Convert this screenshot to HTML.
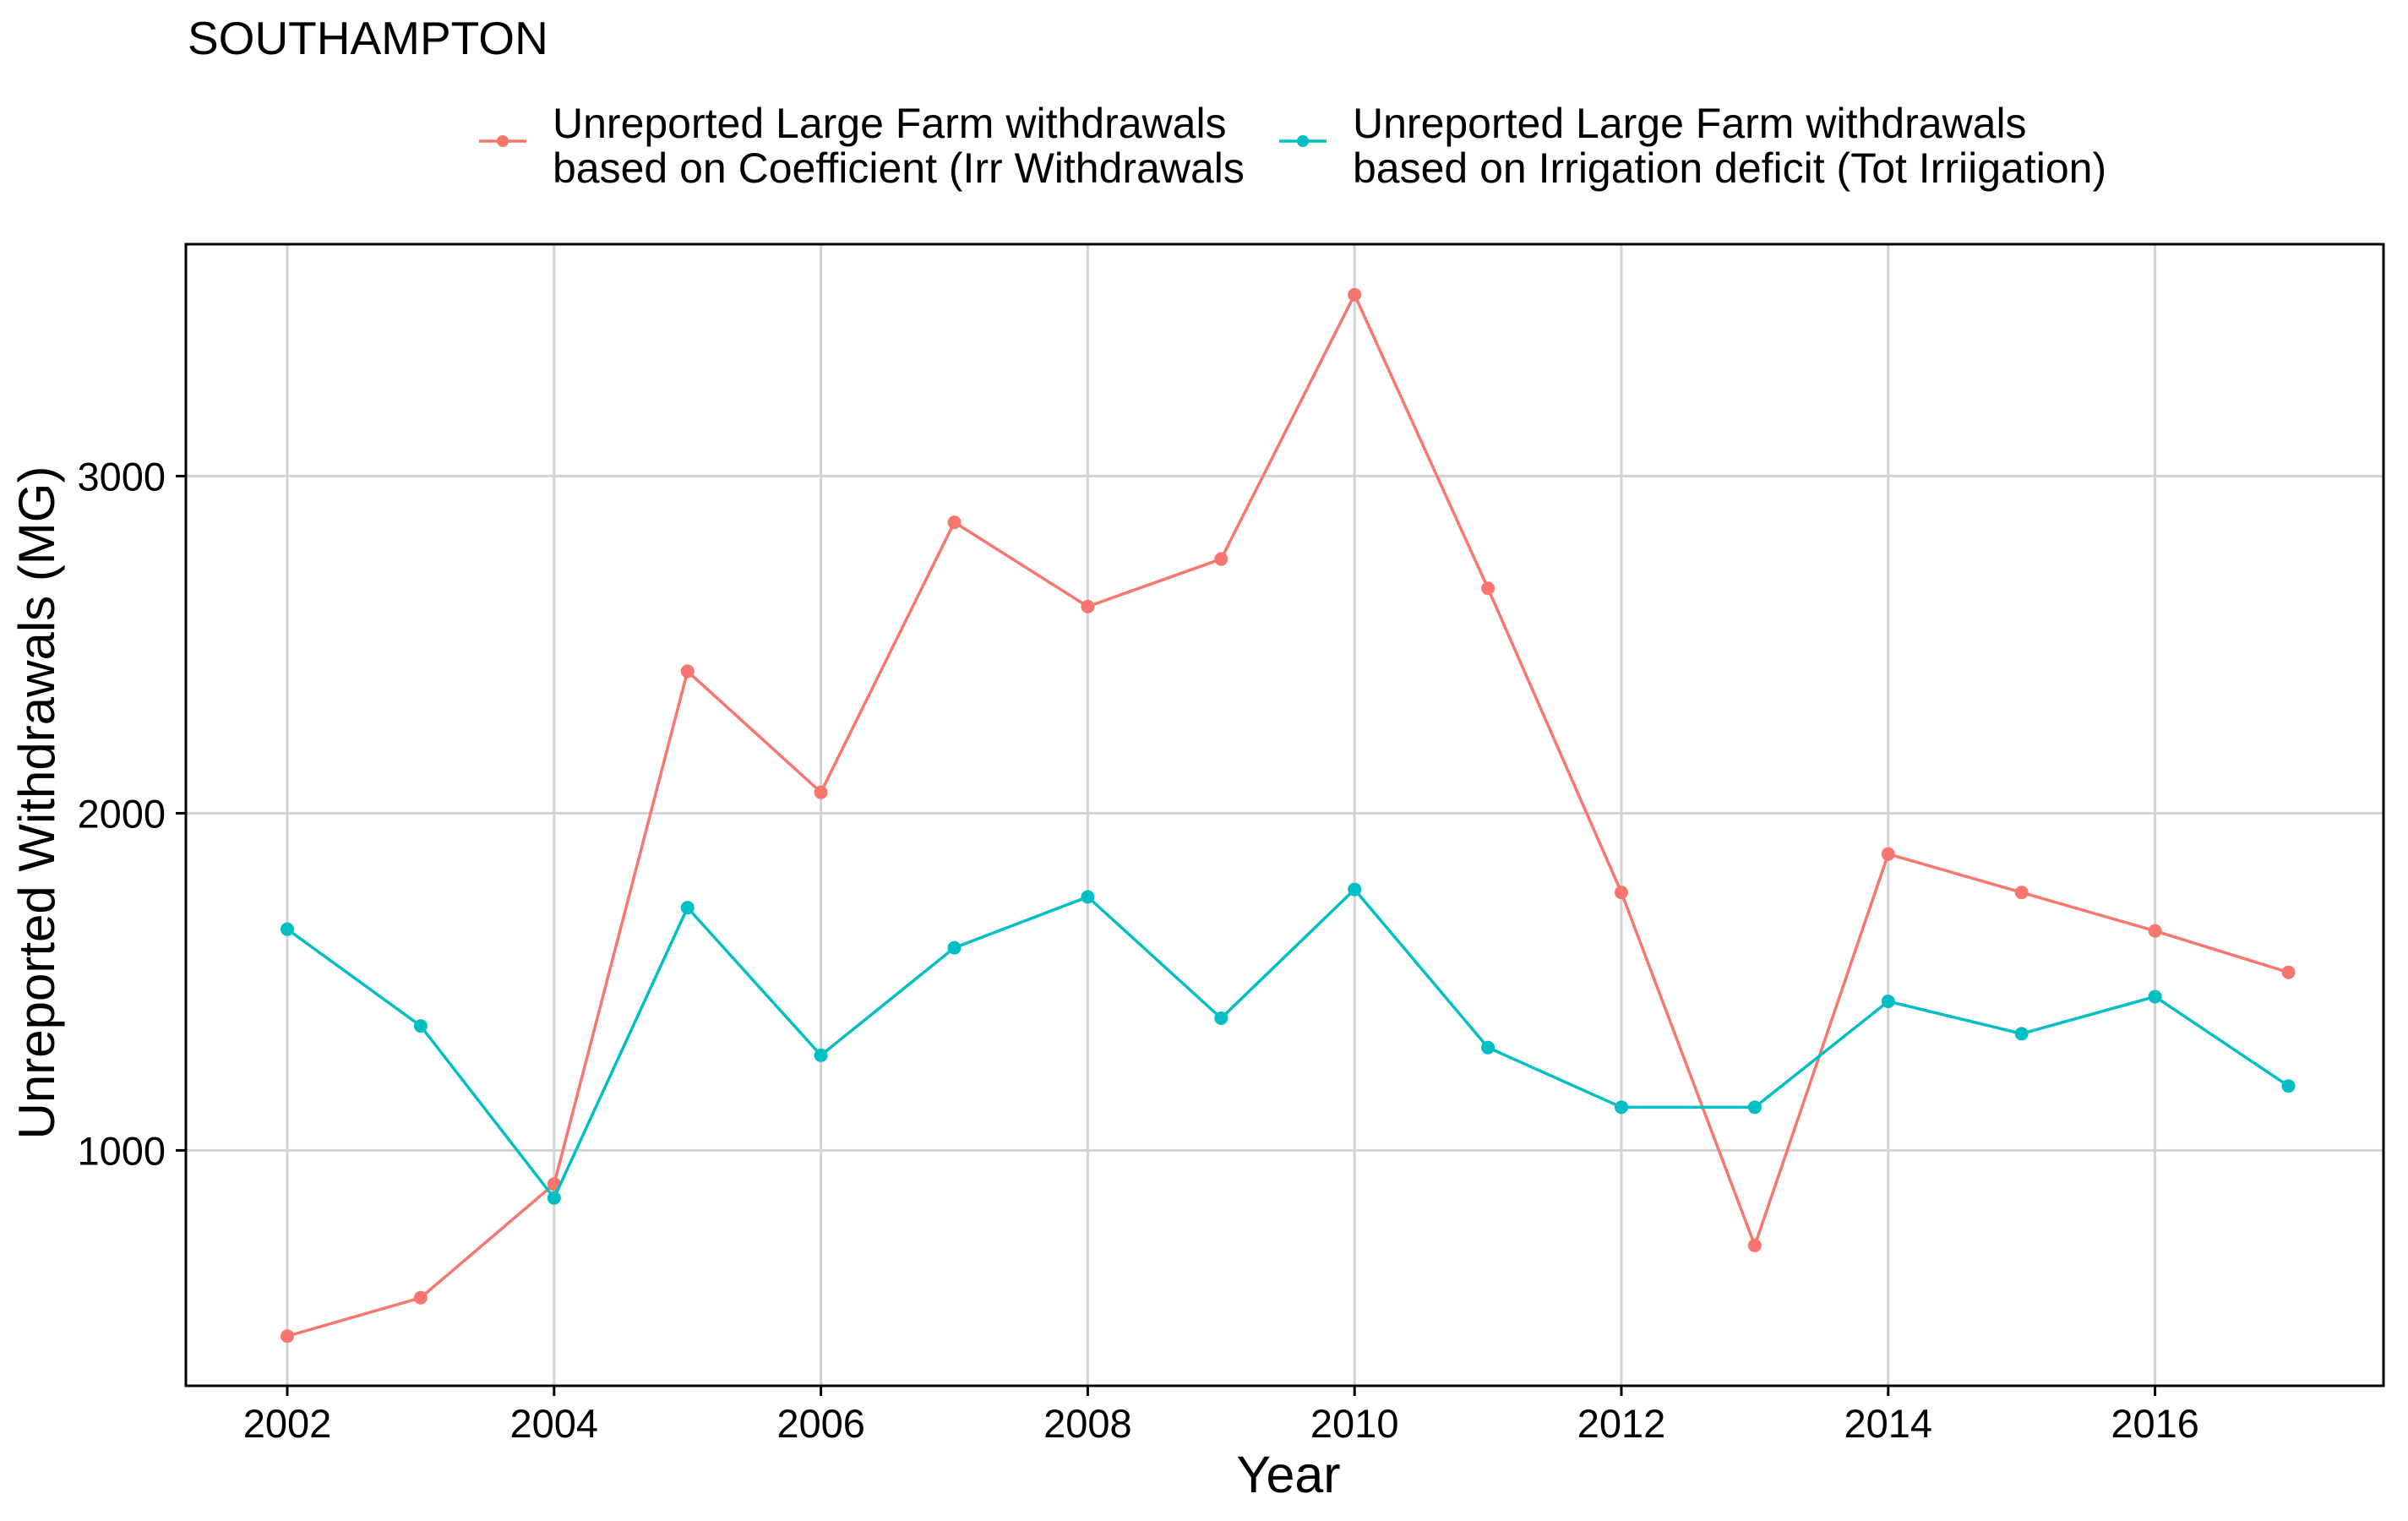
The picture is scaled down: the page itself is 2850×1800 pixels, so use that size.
<!DOCTYPE html>
<html><head><meta charset="utf-8"><style>
html,body{margin:0;padding:0;background:#fff;}
svg{display:block;font-family:"Liberation Sans",Arial,sans-serif;}
</style></head><body>
<svg id="chart" width="2850" height="1800" viewBox="0 0 2850 1800" xmlns="http://www.w3.org/2000/svg">
<rect width="2850" height="1800" fill="#fff"/>
<text x="222" y="64" font-size="55" fill="#000">SOUTHAMPTON</text>
<g>
 <g>
  <line x1="567" x2="623" y1="167" y2="167" stroke="#F8766D" stroke-width="3.5"/>
  <circle cx="595" cy="167" r="7" fill="#F8766D"/>
  <text x="654" y="163" font-size="50">Unreported Large Farm withdrawals</text>
  <text x="654" y="216" font-size="50">based on Coefficient (Irr Withdrawals</text>
 </g>
 <g>
  <line x1="1514" x2="1570" y1="167" y2="167" stroke="#00BFC4" stroke-width="3.5"/>
  <circle cx="1542" cy="167" r="7" fill="#00BFC4"/>
  <text x="1601" y="163" font-size="50">Unreported Large Farm withdrawals</text>
  <text x="1601" y="216" font-size="50">based on Irrigation deficit (Tot Irriigation)</text>
 </g>
</g>
<g id="grid"></g>
<g id="series"></g>
<rect x="220" y="289" width="2601" height="1351" fill="none" stroke="#000" stroke-width="3"/>
<g id="axes"></g>
<text x="1525" y="1766" font-size="61" text-anchor="middle">Year</text>
<text transform="translate(64,950) rotate(-90)" font-size="60" text-anchor="middle">Unreported Withdrawals (MG)</text>
</svg>
<script>
const years = [2002,2003,2004,2005,2006,2007,2008,2009,2010,2011,2012,2013,2014,2015,2016,2017];
const coefficientValues = [449,563,900,2421,2062,2863,2613,2754,3538,2667,1765,718,1879,1765,1651,1528];
const deficitValues = [1656,1369,859,1720,1282,1601,1752,1392,1774,1305,1128,1128,1442,1346,1456,1191];
const xTicks = [2002,2004,2006,2008,2010,2012,2014,2016];
const yTicks = [1000,2000,3000];
const NS="http://www.w3.org/2000/svg";
const L=220,R=2821,T=289,B=1640;
function xs(v){return 340+(v-2002)*157.9;}
function ys(v){return 1361.4-(v-1000)*0.399;}
function mk(tag,attrs,parent){const e=document.createElementNS(NS,tag);for(const k in attrs)e.setAttribute(k,attrs[k]);parent.appendChild(e);return e;}
const grid=document.getElementById('grid'),axes=document.getElementById('axes'),series=document.getElementById('series');
xTicks.forEach(t=>{
 const g=mk('line',{x1:xs(t),x2:xs(t),y1:T,y2:B,stroke:'#d3d3d3','stroke-width':3},grid);
 
 
 const tk=mk('line',{x1:xs(t),x2:xs(t),y1:B,y2:B+12,stroke:'#000','stroke-width':3},axes);
 
 
 const tx=mk('text',{x:xs(t),y:B+61,'font-size':47,'text-anchor':'middle',fill:'#000'},axes);
 tx.textContent=t;
 
 
});
yTicks.forEach(t=>{
 const g=mk('line',{x1:L,x2:R,y1:ys(t),y2:ys(t),stroke:'#d3d3d3','stroke-width':3},grid);
 
 
 const tk=mk('line',{x1:L-12,x2:L,y1:ys(t),y2:ys(t),stroke:'#000','stroke-width':3},axes);
 
 
 const tx=mk('text',{x:L-24,y:ys(t)+17,'font-size':47,'text-anchor':'end',fill:'#000'},axes);
 tx.textContent=t;
 
 
});
function draw(vals,color,name){
 const p=mk('polyline',{points:vals.map((v,i)=>xs(years[i])+','+ys(v)).join(' '),fill:'none',stroke:color,'stroke-width':3.5},series);
 
 
 vals.forEach((v,i)=>{
  const c=mk('circle',{cx:xs(years[i]),cy:ys(v),r:8,fill:color},series);
  
  
 });
}
draw(coefficientValues,'#F8766D','coefficient');
draw(deficitValues,'#00BFC4','deficit');
</script>
</body></html>
